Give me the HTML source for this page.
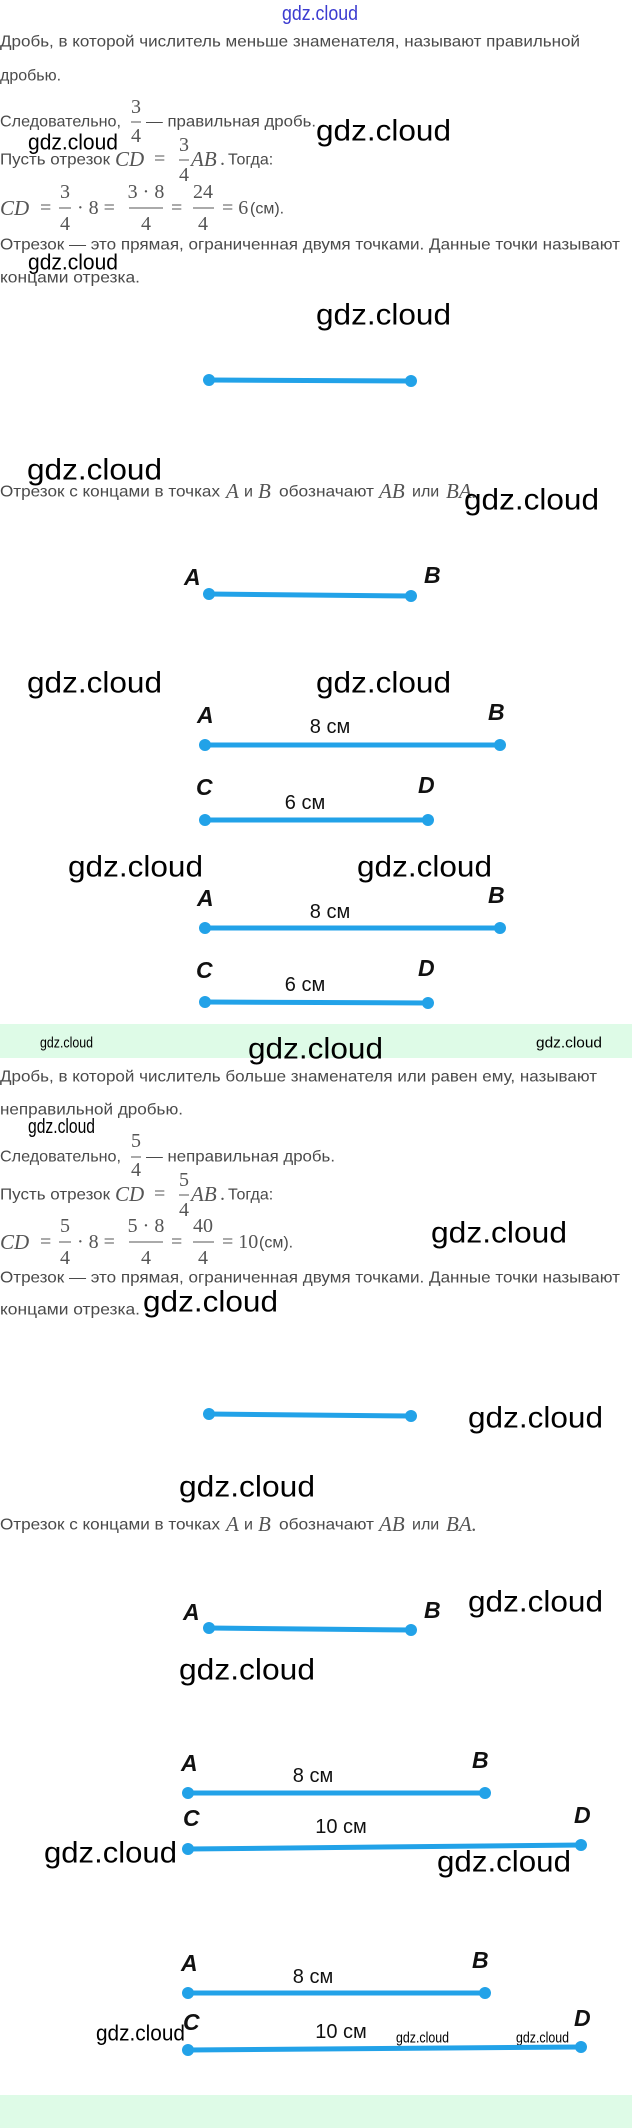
<!DOCTYPE html>
<html><head><meta charset="utf-8"><style>
html,body{margin:0;padding:0;background:#fff;}
svg{display:block}
.t{font-family:"Liberation Sans",sans-serif;font-size:16px;fill:#4a4a4a;dominant-baseline:central}
.m{font-family:"Liberation Serif",serif;font-size:20px;fill:#555;dominant-baseline:central}
.mi{font-family:"Liberation Serif",serif;font-style:italic;font-size:21px;fill:#555;dominant-baseline:central}
.w{font-family:"Liberation Sans",sans-serif;fill:#000;dominant-baseline:central}
.L{font-family:"Liberation Sans",sans-serif;font-style:italic;font-weight:bold;font-size:23px;fill:#111;dominant-baseline:central}
.cm{font-family:"Liberation Sans",sans-serif;font-size:20px;fill:#111;dominant-baseline:central;text-anchor:middle}
.seg{stroke:#22a2e8;stroke-width:5;stroke-linecap:round}
.dot{fill:#22a2e8}
</style></head><body>
<svg width="632" height="2128" viewBox="0 0 632 2128" xmlns="http://www.w3.org/2000/svg">
<text x="282" y="14" class="w" font-size="20" fill="#3b3bd0" style="fill:#3b3bd0" textLength="76" lengthAdjust="spacingAndGlyphs">gdz.cloud</text>

<text x="0" y="42" class="t" textLength="580" lengthAdjust="spacingAndGlyphs">Дробь, в которой числитель меньше знаменателя, называют правильной</text>
<text x="0" y="76" class="t">дробью.</text>
<text x="0" y="122" class="t" textLength="121" lengthAdjust="spacingAndGlyphs">Следовательно,</text>
<text x="136" y="107" class="m" text-anchor="middle" font-size="17">3</text><line x1="131" y1="122" x2="141" y2="122" stroke="#555" stroke-width="1"/><text x="136" y="136" class="m" text-anchor="middle" font-size="17">4</text>
<text x="146" y="122" class="t" textLength="170" lengthAdjust="spacingAndGlyphs">— правильная дробь.</text>
<text x="316" y="131" class="w" font-size="30" textLength="135" lengthAdjust="spacingAndGlyphs">gdz.cloud</text>
<text x="28" y="142" class="w" font-size="22" textLength="90" lengthAdjust="spacingAndGlyphs">gdz.cloud</text>

<text x="0" y="160" class="t" textLength="110" lengthAdjust="spacingAndGlyphs">Пусть отрезок</text>
<text x="115" y="159" class="mi">CD</text><text x="154" y="159" class="m">=</text>
<text x="184" y="145" class="m" text-anchor="middle" font-size="17">3</text><line x1="179" y1="160" x2="189" y2="160" stroke="#555"/><text x="184" y="175" class="m" text-anchor="middle" font-size="17">4</text>
<text x="191" y="159" class="mi">AB</text><text x="220" y="159" class="m">.</text>
<text x="228" y="160" class="t">Тогда:</text>

<text x="0" y="208" class="mi">CD</text><text x="40" y="208" class="m">=</text>
<text x="65" y="192" class="m" text-anchor="middle" font-size="18">3</text><line x1="59" y1="208" x2="71" y2="208" stroke="#555"/><text x="65" y="224" class="m" text-anchor="middle" font-size="18">4</text>
<text x="77" y="208" class="m">· 8 =</text>
<text x="146" y="192" class="m" text-anchor="middle" font-size="18">3 · 8</text><line x1="129" y1="208" x2="163" y2="208" stroke="#555"/><text x="146" y="224" class="m" text-anchor="middle" font-size="18">4</text>
<text x="171" y="208" class="m">=</text>
<text x="203" y="192" class="m" text-anchor="middle" font-size="18">24</text><line x1="193" y1="208" x2="214" y2="208" stroke="#555"/><text x="203" y="224" class="m" text-anchor="middle" font-size="18">4</text>
<text x="222" y="208" class="m">= 6</text><text x="250" y="209" class="t">(см).</text>

<text x="0" y="245" class="t" textLength="620" lengthAdjust="spacingAndGlyphs">Отрезок — это прямая, ограниченная двумя точками. Данные точки называют</text>
<text x="28" y="262" class="w" font-size="22" textLength="90" lengthAdjust="spacingAndGlyphs">gdz.cloud</text>
<text x="0" y="278" class="t" textLength="140" lengthAdjust="spacingAndGlyphs">концами отрезка.</text>
<text x="316" y="315" class="w" font-size="30" textLength="135" lengthAdjust="spacingAndGlyphs">gdz.cloud</text>

<line x1="209" y1="380" x2="411" y2="381" class="seg"/><circle cx="209" cy="380" r="6" class="dot"/><circle cx="411" cy="381" r="6" class="dot"/>

<text x="27" y="470" class="w" font-size="30" textLength="135" lengthAdjust="spacingAndGlyphs">gdz.cloud</text>
<text x="0" y="492" class="t" textLength="220" lengthAdjust="spacingAndGlyphs">Отрезок с концами в точках</text>
<text x="226" y="491" class="mi">A</text><text x="244" y="492" class="t">и</text><text x="258" y="491" class="mi">B</text>
<text x="279" y="492" class="t" textLength="95" lengthAdjust="spacingAndGlyphs">обозначают</text>
<text x="379" y="491" class="mi">AB</text><text x="412" y="492" class="t">или</text><text x="446" y="491" class="mi">BA.</text>
<text x="464" y="500" class="w" font-size="30" textLength="135" lengthAdjust="spacingAndGlyphs">gdz.cloud</text>

<text x="184" y="577" class="L">A</text><text x="424" y="575" class="L">B</text>
<line x1="209" y1="594" x2="411" y2="596" class="seg"/><circle cx="209" cy="594" r="6" class="dot"/><circle cx="411" cy="596" r="6" class="dot"/>

<text x="27" y="683" class="w" font-size="30" textLength="135" lengthAdjust="spacingAndGlyphs">gdz.cloud</text>
<text x="316" y="683" class="w" font-size="30" textLength="135" lengthAdjust="spacingAndGlyphs">gdz.cloud</text>
<text x="197" y="715" class="L">A</text><text x="488" y="712" class="L">B</text>
<text x="330" y="727" class="cm">8 см</text>
<line x1="205" y1="745" x2="500" y2="745" class="seg"/><circle cx="205" cy="745" r="6" class="dot"/><circle cx="500" cy="745" r="6" class="dot"/>
<text x="196" y="787" class="L">C</text><text x="418" y="785" class="L">D</text>
<text x="305" y="803" class="cm">6 см</text>
<line x1="205" y1="820" x2="428" y2="820" class="seg"/><circle cx="205" cy="820" r="6" class="dot"/><circle cx="428" cy="820" r="6" class="dot"/>

<text x="68" y="867" class="w" font-size="30" textLength="135" lengthAdjust="spacingAndGlyphs">gdz.cloud</text>
<text x="357" y="867" class="w" font-size="30" textLength="135" lengthAdjust="spacingAndGlyphs">gdz.cloud</text>
<text x="197" y="898" class="L">A</text><text x="488" y="895" class="L">B</text>
<text x="330" y="912" class="cm">8 см</text>
<line x1="205" y1="928" x2="500" y2="928" class="seg"/><circle cx="205" cy="928" r="6" class="dot"/><circle cx="500" cy="928" r="6" class="dot"/>
<text x="196" y="970" class="L">C</text><text x="418" y="968" class="L">D</text>
<text x="305" y="985" class="cm">6 см</text>
<line x1="205" y1="1002" x2="428" y2="1003" class="seg"/><circle cx="205" cy="1002" r="6" class="dot"/><circle cx="428" cy="1003" r="6" class="dot"/>

<rect x="0" y="1024" width="632" height="34" fill="#defbe7"/>
<text x="40" y="1043" class="w" font-size="15" textLength="53" lengthAdjust="spacingAndGlyphs">gdz.cloud</text>
<text x="536" y="1043" class="w" font-size="15" textLength="66" lengthAdjust="spacingAndGlyphs">gdz.cloud</text>
<text x="248" y="1049" class="w" font-size="30" textLength="135" lengthAdjust="spacingAndGlyphs">gdz.cloud</text>

<text x="0" y="1077" class="t" textLength="597" lengthAdjust="spacingAndGlyphs">Дробь, в которой числитель больше знаменателя или равен ему, называют</text>
<text x="0" y="1110" class="t" textLength="183" lengthAdjust="spacingAndGlyphs">неправильной дробью.</text>
<text x="28" y="1127" class="w" font-size="20" textLength="67" lengthAdjust="spacingAndGlyphs">gdz.cloud</text>
<text x="0" y="1157" class="t" textLength="121" lengthAdjust="spacingAndGlyphs">Следовательно,</text>
<text x="136" y="1141" class="m" text-anchor="middle" font-size="17">5</text><line x1="131" y1="1157" x2="141" y2="1157" stroke="#555"/><text x="136" y="1170" class="m" text-anchor="middle" font-size="17">4</text>
<text x="146" y="1157" class="t" textLength="189" lengthAdjust="spacingAndGlyphs">— неправильная дробь.</text>

<text x="0" y="1195" class="t" textLength="110" lengthAdjust="spacingAndGlyphs">Пусть отрезок</text>
<text x="115" y="1194" class="mi">CD</text><text x="154" y="1194" class="m">=</text>
<text x="184" y="1180" class="m" text-anchor="middle" font-size="17">5</text><line x1="179" y1="1195" x2="189" y2="1195" stroke="#555"/><text x="184" y="1210" class="m" text-anchor="middle" font-size="17">4</text>
<text x="191" y="1194" class="mi">AB</text><text x="220" y="1194" class="m">.</text>
<text x="228" y="1195" class="t">Тогда:</text>

<text x="0" y="1242" class="mi">CD</text><text x="40" y="1242" class="m">=</text>
<text x="65" y="1226" class="m" text-anchor="middle" font-size="18">5</text><line x1="59" y1="1242" x2="71" y2="1242" stroke="#555"/><text x="65" y="1258" class="m" text-anchor="middle" font-size="18">4</text>
<text x="77" y="1242" class="m">· 8 =</text>
<text x="146" y="1226" class="m" text-anchor="middle" font-size="18">5 · 8</text><line x1="129" y1="1242" x2="163" y2="1242" stroke="#555"/><text x="146" y="1258" class="m" text-anchor="middle" font-size="18">4</text>
<text x="171" y="1242" class="m">=</text>
<text x="203" y="1226" class="m" text-anchor="middle" font-size="18">40</text><line x1="193" y1="1242" x2="214" y2="1242" stroke="#555"/><text x="203" y="1258" class="m" text-anchor="middle" font-size="18">4</text>
<text x="222" y="1242" class="m">= 10</text><text x="259" y="1243" class="t">(см).</text>
<text x="431" y="1233" class="w" font-size="30" textLength="136" lengthAdjust="spacingAndGlyphs">gdz.cloud</text>

<text x="0" y="1278" class="t" textLength="620" lengthAdjust="spacingAndGlyphs">Отрезок — это прямая, ограниченная двумя точками. Данные точки называют</text>
<text x="0" y="1310" class="t" textLength="140" lengthAdjust="spacingAndGlyphs">концами отрезка.</text>
<text x="143" y="1302" class="w" font-size="30" textLength="135" lengthAdjust="spacingAndGlyphs">gdz.cloud</text>

<line x1="209" y1="1414" x2="411" y2="1416" class="seg"/><circle cx="209" cy="1414" r="6" class="dot"/><circle cx="411" cy="1416" r="6" class="dot"/>
<text x="468" y="1418" class="w" font-size="30" textLength="135" lengthAdjust="spacingAndGlyphs">gdz.cloud</text>
<text x="179" y="1487" class="w" font-size="30" textLength="136" lengthAdjust="spacingAndGlyphs">gdz.cloud</text>

<text x="0" y="1525" class="t" textLength="220" lengthAdjust="spacingAndGlyphs">Отрезок с концами в точках</text>
<text x="226" y="1524" class="mi">A</text><text x="244" y="1525" class="t">и</text><text x="258" y="1524" class="mi">B</text>
<text x="279" y="1525" class="t" textLength="95" lengthAdjust="spacingAndGlyphs">обозначают</text>
<text x="379" y="1524" class="mi">AB</text><text x="412" y="1525" class="t">или</text><text x="446" y="1524" class="mi">BA.</text>

<text x="183" y="1612" class="L">A</text><text x="424" y="1610" class="L">B</text>
<text x="468" y="1602" class="w" font-size="30" textLength="135" lengthAdjust="spacingAndGlyphs">gdz.cloud</text>
<line x1="209" y1="1628" x2="411" y2="1630" class="seg"/><circle cx="209" cy="1628" r="6" class="dot"/><circle cx="411" cy="1630" r="6" class="dot"/>
<text x="179" y="1670" class="w" font-size="30" textLength="136" lengthAdjust="spacingAndGlyphs">gdz.cloud</text>

<text x="181" y="1763" class="L">A</text><text x="472" y="1760" class="L">B</text>
<text x="313" y="1776" class="cm">8 см</text>
<line x1="188" y1="1793" x2="485" y2="1793" class="seg"/><circle cx="188" cy="1793" r="6" class="dot"/><circle cx="485" cy="1793" r="6" class="dot"/>
<text x="183" y="1818" class="L">C</text><text x="574" y="1815" class="L">D</text>
<text x="341" y="1827" class="cm">10 см</text>
<line x1="188" y1="1849" x2="581" y2="1845" class="seg"/><circle cx="188" cy="1849" r="6" class="dot"/><circle cx="581" cy="1845" r="6" class="dot"/>
<text x="44" y="1853" class="w" font-size="30" textLength="133" lengthAdjust="spacingAndGlyphs">gdz.cloud</text>
<text x="437" y="1862" class="w" font-size="30" textLength="134" lengthAdjust="spacingAndGlyphs">gdz.cloud</text>

<text x="181" y="1963" class="L">A</text><text x="472" y="1960" class="L">B</text>
<text x="313" y="1977" class="cm">8 см</text>
<line x1="188" y1="1993" x2="485" y2="1993" class="seg"/><circle cx="188" cy="1993" r="6" class="dot"/><circle cx="485" cy="1993" r="6" class="dot"/>
<text x="183" y="2022" class="L">C</text><text x="574" y="2018" class="L">D</text>
<text x="96" y="2033" class="w" font-size="22" textLength="89" lengthAdjust="spacingAndGlyphs">gdz.cloud</text>
<text x="341" y="2032" class="cm">10 см</text>
<text x="396" y="2038" class="w" font-size="15" textLength="53" lengthAdjust="spacingAndGlyphs">gdz.cloud</text>
<text x="516" y="2038" class="w" font-size="15" textLength="53" lengthAdjust="spacingAndGlyphs">gdz.cloud</text>
<line x1="188" y1="2050" x2="581" y2="2047" class="seg"/><circle cx="188" cy="2050" r="6" class="dot"/><circle cx="581" cy="2047" r="6" class="dot"/>

<rect x="0" y="2095" width="632" height="33" fill="#defbe7"/>
</svg>
</body></html>
